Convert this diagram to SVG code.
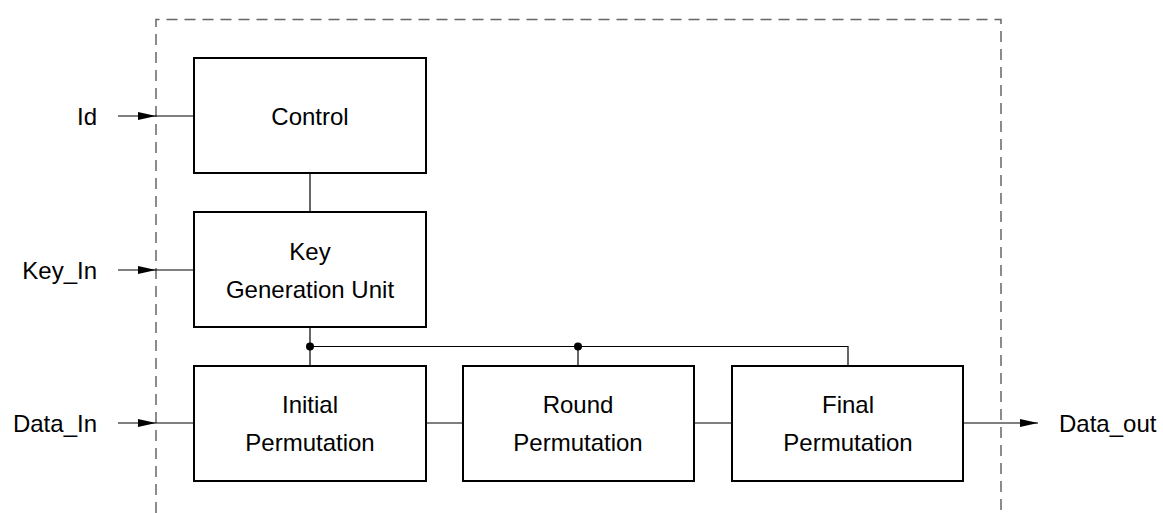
<svg xmlns="http://www.w3.org/2000/svg" width="1163" height="513" viewBox="0 0 1163 513">
<style>
.box{fill:#fff;stroke:#000;stroke-width:2}
.ln{fill:none;stroke:#000;stroke-width:1.2}
.bd{fill:none;stroke:#666;stroke-width:1.5;stroke-dasharray:11,7}
text{font-family:"Liberation Sans",Arial,sans-serif;font-size:24px;fill:#000}
.c{text-anchor:middle}
.r{text-anchor:end}
</style>
<defs>
<marker id="ah" markerWidth="18" markerHeight="8" refX="18" refY="4" orientation="auto" markerUnits="userSpaceOnUse" orient="auto">
<path d="M0,0 L18,4 L0,8 Z" fill="#000"/>
</marker>
</defs>
<rect width="1163" height="513" fill="#fff"/>
<path class="bd" d="M156,513 V19.5 H1001 V513"/>
<g id="connectors">
<line class="ln" x1="118" y1="116" x2="156" y2="116" marker-end="url(#ah)"/>
<line class="ln" x1="156" y1="116" x2="194" y2="116"/>
<line class="ln" x1="118" y1="270" x2="156" y2="270" marker-end="url(#ah)"/>
<line class="ln" x1="156" y1="270" x2="194" y2="270"/>
<line class="ln" x1="118" y1="423" x2="156" y2="423" marker-end="url(#ah)"/>
<line class="ln" x1="156" y1="423" x2="194" y2="423"/>
<line class="ln" x1="963" y1="423" x2="1038" y2="423" marker-end="url(#ah)"/>
<line class="ln" x1="310" y1="173" x2="310" y2="212"/>
<line class="ln" x1="310" y1="327" x2="310" y2="366"/>
<path class="ln" d="M310,346.5 H848 V366"/>
<line class="ln" x1="578" y1="346.5" x2="578" y2="366"/>
<line class="ln" x1="426" y1="423" x2="463" y2="423"/>
<line class="ln" x1="694" y1="423" x2="732" y2="423"/>
<circle cx="310" cy="346.5" r="4" fill="#000"/>
<circle cx="578" cy="346.5" r="4" fill="#000"/>
</g>
<g id="control">
<rect class="box" x="194" y="58" width="232" height="115"/>
<text class="c" x="310" y="125">Control</text>
</g>
<g id="keygen">
<rect class="box" x="194" y="212" width="232" height="115"/>
<text class="c" x="310" y="260">Key</text>
<text class="c" x="310" y="297.5">Generation Unit</text>
</g>
<g id="initial">
<rect class="box" x="194" y="366" width="232" height="115"/>
<text class="c" x="310" y="413">Initial</text>
<text class="c" x="310" y="451">Permutation</text>
</g>
<g id="round">
<rect class="box" x="463" y="366" width="231" height="115"/>
<text class="c" x="578" y="413">Round</text>
<text class="c" x="578" y="451">Permutation</text>
</g>
<g id="final">
<rect class="box" x="732" y="366" width="231" height="115"/>
<text class="c" x="848" y="413">Final</text>
<text class="c" x="848" y="451">Permutation</text>
</g>
<g id="labels">
<text class="r" x="97" y="125">Id</text>
<text class="r" x="97" y="279">Key_In</text>
<text class="r" x="97" y="432">Data_In</text>
<text x="1059" y="432">Data_out</text>
</g>
</svg>
